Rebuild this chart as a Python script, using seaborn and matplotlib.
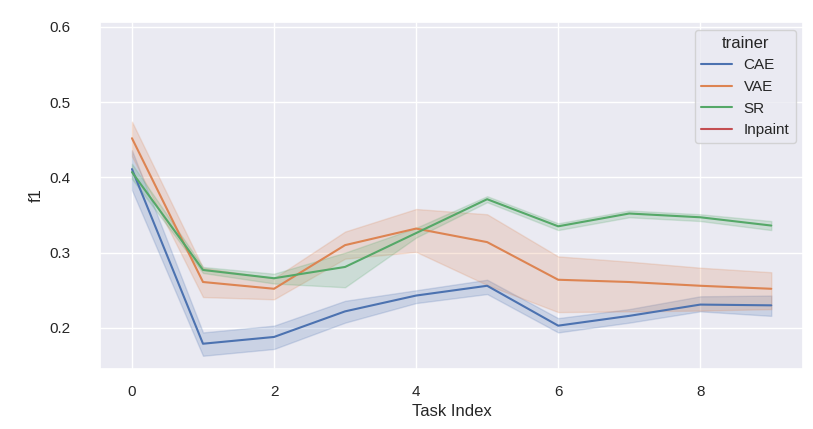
import numpy as np
import pandas as pd
import matplotlib
matplotlib.use("Agg")
import matplotlib.pyplot as plt
import seaborn as sns

tasks = [0, 1, 2, 3, 4, 5, 6, 7, 8, 9]
trainers = ["CAE", "VAE", "SR", "Inpaint"]

cae_mean = [0.411, 0.179, 0.188, 0.222, 0.243, 0.256, 0.203, 0.216, 0.231, 0.230]
cae_lo = [0.383, 0.163, 0.172, 0.207, 0.233, 0.245, 0.194, 0.207, 0.222, 0.216]
cae_hi = [0.436, 0.194, 0.203, 0.236, 0.250, 0.264, 0.213, 0.225, 0.242, 0.243]

vae_mean = [0.452, 0.261, 0.252, 0.310, 0.332, 0.314, 0.264, 0.261, 0.256, 0.252]
vae_lo = [0.428, 0.241, 0.238, 0.292, 0.301, 0.257, 0.221, 0.222, 0.223, 0.225]
vae_hi = [0.474, 0.280, 0.266, 0.328, 0.358, 0.351, 0.295, 0.288, 0.280, 0.274]

sr_mean = [0.407, 0.277, 0.266, 0.281, 0.326, 0.371, 0.335, 0.352, 0.347, 0.336]
sr_lo = [0.398, 0.273, 0.259, 0.254, 0.320, 0.367, 0.330, 0.347, 0.342, 0.330]
sr_hi = [0.418, 0.281, 0.272, 0.300, 0.333, 0.375, 0.339, 0.356, 0.351, 0.342]

series = {
    "CAE": (cae_mean, cae_lo, cae_hi),
    "VAE": (vae_mean, vae_lo, vae_hi),
    "SR": (sr_mean, sr_lo, sr_hi),
}

rows = []
for name, (m, lo, hi) in series.items():
    for t, a, b, c in zip(tasks, m, lo, hi):
        for v in (a, b, c):
            rows.append({"Task Index": t, "f1": v, "trainer": name})
df = pd.DataFrame(rows)

sns.set_theme(style="darkgrid")
plt.rcParams["font.family"] = ["Liberation Sans", "DejaVu Sans"]

fig, ax = plt.subplots(figsize=(8.13, 4.29), dpi=100)
sns.lineplot(data=df, x="Task Index", y="f1", hue="trainer", hue_order=trainers,
             estimator="median", errorbar=("pi", 100), palette="deep", ax=ax)
ax.set_ylim(0.1455, 0.6066)
ax.set_xlim(-0.45, 9.45)
ax.set_yticks([0.2, 0.3, 0.4, 0.5, 0.6])
ax.set_xticks([0, 2, 4, 6, 8])
ax.tick_params(axis="y", pad=15.5)
ax.tick_params(axis="x", pad=5.5)
ax.legend(title="trainer", loc="upper right")
fig.subplots_adjust(left=0.123, right=0.988, bottom=0.140, top=0.949)
fig.savefig("out.png", dpi=100)
